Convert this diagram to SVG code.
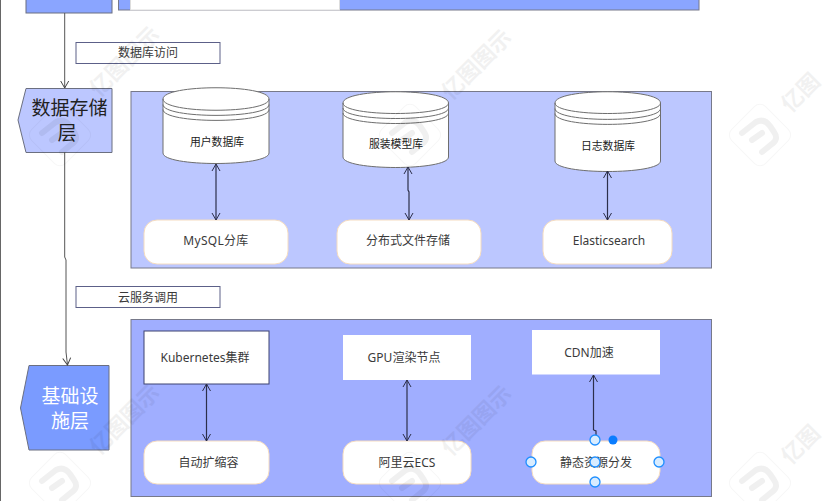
<svg xmlns="http://www.w3.org/2000/svg" width="830" height="501" viewBox="0 0 830 501">
<style>
text{font-family:"Noto Sans","Noto Sans CJK SC",sans-serif;text-anchor:middle;fill:#3a3a3a}
.cn{font-family:"Noto Sans CJK SC","Noto Sans",sans-serif}
.lbl{font-size:12px}
.cyltx{font-size:10.800px;fill:#222}
.box{font-size:12px}
.layer{stroke:#6b6f80;stroke-width:1}
.panel{stroke:#77798a;stroke-width:1}
.tag{fill:#fff;stroke:#5c6088;stroke-width:1}
.rr{fill:#fff;stroke:#f5dcc0;stroke-width:1}
.cyl{fill:#fff;stroke:#6e6e6e;stroke-width:1}
.con{fill:none;stroke:#555;stroke-width:1}
.bi{fill:none;stroke:#2c2f4a;stroke-width:1.200;marker-start:url(#oa);marker-end:url(#oa)}
.h{fill:#d8ecff;stroke:#1e8fff;stroke-width:1.300}
.wt{font-family:"Noto Sans CJK SC",sans-serif;font-size:22px;font-weight:700;fill:#000;opacity:.05}
.wd{fill:none;stroke:#000;opacity:.035;stroke-width:1}
.wu{fill:none;stroke:#000;opacity:.06;stroke-width:6;stroke-linecap:round}
</style>
<defs>
<marker id="oa" viewBox="0 0 10 10" refX="9" refY="5" markerWidth="10" markerHeight="10" orient="auto-start-reverse" markerUnits="userSpaceOnUse"><path d="M2 1 L9 5 L2 9" fill="none" stroke="#2c2f4a" stroke-width="1"/></marker>
<marker id="ob" viewBox="0 0 10 10" refX="9" refY="5" markerWidth="10" markerHeight="10" orient="auto" markerUnits="userSpaceOnUse"><path d="M2 1 L9 5 L2 9" fill="none" stroke="#444" stroke-width="1"/></marker>
<g id="wm"><rect x="-24" y="-24" width="48" height="48" rx="8" class="wd" transform="rotate(45)"/><path d="M-18 -2 L-4 -13 Q4 -17 10 -9 L14 -3 Q19 4 12 9 L2 17 M-8 5 L2 -2" class="wu"/></g>
</defs>
<rect width="830" height="501" fill="#fff"/>
<rect x="0" y="0" width="1" height="501" fill="#666"/>

<g id="node-top"><rect x="26" y="-5" width="86" height="18" fill="#8aa5ff" class="layer"/></g>
<g id="panel-top"><rect x="118.500" y="-5" width="580.500" height="15" fill="#8aa5ff" class="panel"/><rect x="130.500" y="-5" width="209" height="15" fill="#fff" stroke="#ddd"/></g>

<g id="tag-db"><rect x="76" y="42.500" width="144" height="21" class="tag"/><text x="148" y="57" class="cn lbl">数据库访问</text></g>
<g id="layer-data"><path d="M26 88.500H112V152.500H26L18 120Z" fill="#bcc7ff" class="layer"/><text x="69.500" y="115" class="cn" font-size="19" style="fill:#222">数据存储</text><text x="67" y="140" class="cn" font-size="19" style="fill:#222">层</text></g>
<g id="panel-data"><rect x="131" y="91.500" width="580.500" height="176.500" fill="#bcc7ff" class="panel"/></g>

<g id="db-user"><path d="M163 99C163 84 269 84 269 99V153C269 167 163 167 163 153Z" class="cyl"/><path d="M163 99C163 114 269 114 269 99M163 104.500C163 119 269 119 269 104.500M163 109.500C163 124 269 124 269 109.500" class="cyl" style="fill:none"/><text x="217" y="146" class="cn cyltx">用户数据库</text></g>
<g id="db-model"><path d="M343 103C343 88 448.500 88 448.500 103V157C448.500 171 343 171 343 157Z" class="cyl"/><path d="M343 103C343 117 448.500 117 448.500 103M343 108C343 122 448.500 122 448.500 108M343 113C343 127 448.500 127 448.500 113" class="cyl" style="fill:none"/><text x="396" y="148" class="cn cyltx">服装模型库</text></g>
<g id="db-log"><path d="M555 103C555 88 660.500 88 660.500 103V161C660.500 175 555 175 555 161Z" class="cyl"/><path d="M555 103C555 117 660.500 117 660.500 103M555 108.500C555 123 660.500 123 660.500 108.500M555 113.500C555 128 660.500 128 660.500 113.500" class="cyl" style="fill:none"/><text x="608" y="150" class="cn cyltx">日志数据库</text></g>

<g id="svc-mysql"><rect x="144" y="220" width="144" height="44" rx="13" class="rr"/><text x="216" y="245" class="box" letter-spacing=".3">MySQL分库</text></g>
<g id="svc-dfs"><rect x="337" y="220" width="144" height="44" rx="13" class="rr"/><text x="408" y="245" class="box">分布式文件存储</text></g>
<g id="svc-es"><rect x="543" y="220" width="129" height="44" rx="13" class="rr"/><text x="609" y="245" class="box">Elasticsearch</text></g>

<g id="tag-cloud"><rect x="76" y="286.500" width="144" height="21" class="tag"/><text x="148" y="302" class="cn lbl">云服务调用</text></g>
<g id="layer-infra"><path d="M29 365.500H109V450H29L20.500 408Z" fill="#7a9bff" class="layer"/><text x="70" y="403" class="cn" font-size="19" style="fill:#fff">基础设</text><text x="70" y="428" class="cn" font-size="19" style="fill:#fff">施层</text></g>
<g id="panel-infra"><rect x="131" y="319.500" width="580.500" height="177" fill="#a0aeff" class="panel"/></g>

<g id="svc-k8s"><rect x="144" y="331" width="125" height="53" fill="#fff" stroke="#3c4270"/><text x="205" y="362" class="box">Kubernetes集群</text></g>
<g id="svc-gpu"><rect x="343" y="335" width="128" height="45" fill="#fff"/><text x="404" y="362" class="box">GPU渲染节点</text></g>
<g id="svc-cdn"><rect x="532" y="330" width="128" height="44.500" fill="#fff"/><text x="589" y="357" class="box">CDN加速</text></g>
<g id="svc-scale"><rect x="144" y="441" width="125" height="43" rx="13" class="rr"/><text x="208.500" y="467" class="box">自动扩缩容</text></g>
<g id="svc-ecs"><rect x="343" y="441" width="128" height="43" rx="13" class="rr"/><text x="407" y="467" class="box">阿里云ECS</text></g>
<g id="svc-static"><rect x="532" y="441" width="128" height="43" rx="13" class="rr"/><text x="596" y="467" class="box">静态资源分发</text></g>

<g id="connectors">
<path d="M64.700 13V88" class="con" marker-end="url(#ob)"/>
<path d="M64.700 152V257L66 260V352L67.500 365" class="con" marker-end="url(#ob)"/>
<path d="M216 164V220" class="bi"/>
<path d="M408 167V190L409 192V220" class="bi"/>
<path d="M607.500 171V220" class="bi"/>
<path d="M206.500 384V441" class="bi"/>
<path d="M407 380V441" class="bi"/>
<path d="M593.500 430V375" class="bi" style="marker-start:none"/>
<path d="M593.500 430L596 431V440" class="bi" style="marker:none"/>
</g>

<g id="handles">
<circle cx="595" cy="440" r="5" class="h"/><circle cx="531" cy="462" r="5" class="h"/><circle cx="595" cy="462" r="5" class="h"/><circle cx="659" cy="462" r="5" class="h"/><circle cx="595" cy="482" r="5" class="h"/>
<circle cx="613" cy="440" r="4.500" fill="#0a7dff"/>
</g>

<g id="watermark">
<text class="wt" transform="translate(130 67) rotate(-45)">亿图图示</text>
<text class="wt" transform="translate(482 70) rotate(-45)">亿图图示</text>
<text class="wt" transform="translate(806 98) rotate(-45)">亿图</text>
<text class="wt" transform="translate(130 425) rotate(-45)">亿图图示</text>
<text class="wt" transform="translate(482 426) rotate(-45)">亿图图示</text>
<text class="wt" transform="translate(806 450) rotate(-45)">亿图</text>
<use href="#wm" x="60" y="135"/><use href="#wm" x="410" y="135"/><use href="#wm" x="760" y="135"/>
<use href="#wm" x="60" y="483"/><use href="#wm" x="410" y="483"/><use href="#wm" x="760" y="483"/>
</g>
</svg>
